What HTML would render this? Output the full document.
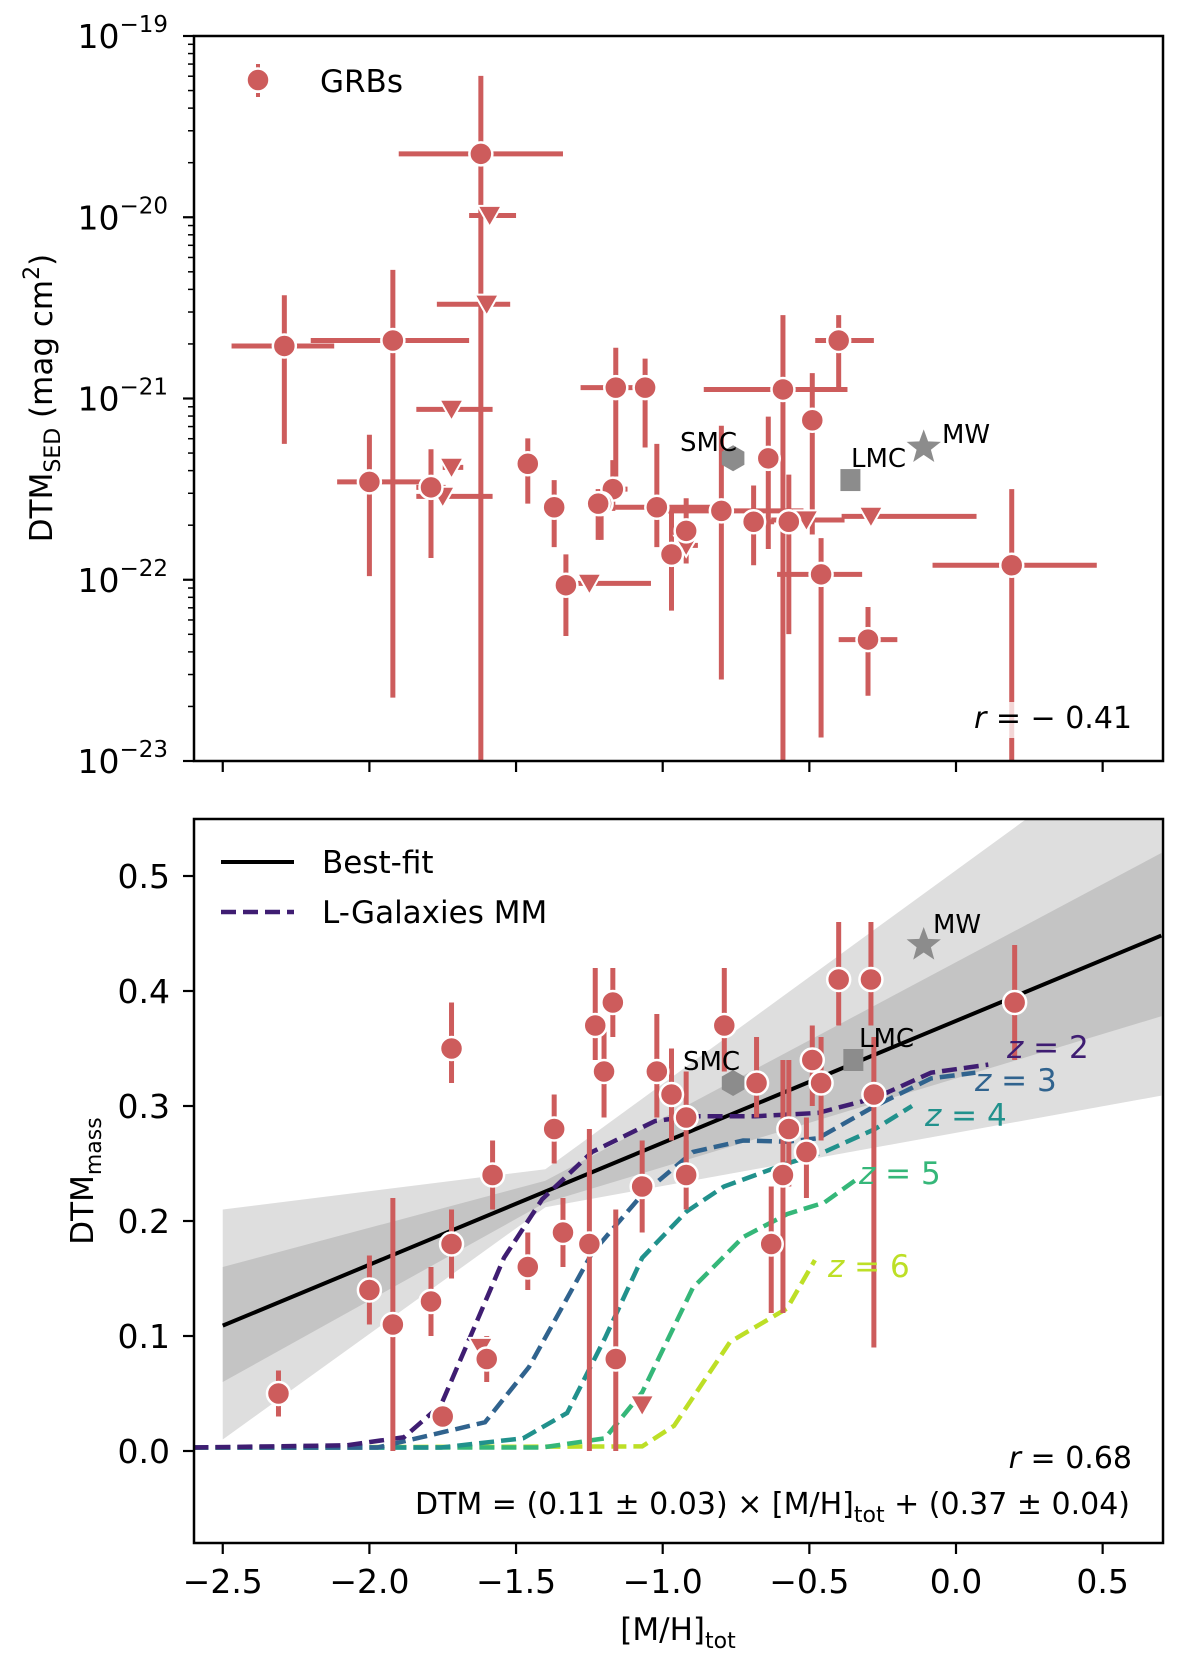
<!DOCTYPE html>
<html><head><meta charset="utf-8">
<style>
html,body{margin:0;padding:0;background:#fff;}
svg{display:block;font-family:"DejaVu Sans","Liberation Sans",sans-serif;}
</style></head>
<body>
<svg id="chart" width="1200" height="1656" viewBox="0 0 1200 1656" xmlns="http://www.w3.org/2000/svg">
<defs>
<clipPath id="clipTop"><rect x="194" y="36" width="969" height="725"/></clipPath>
<clipPath id="clipBot"><rect x="194" y="819" width="969" height="724"/></clipPath>
</defs>
<g id="gTop"></g>
<g id="gBot"></g>
</svg>
<script>
// ---------- data: top panel (x, log10 DTM_SED, x-lo, x-hi, logy-hi, logy-lo) ----------
const topCircX   = [-2.29,-1.92,-1.62,-2.00,-1.79,-1.46,-1.37,-1.33,-1.16,-1.06,-1.17,-1.21,-1.22,-1.02,-0.97,-0.92,-0.80,-0.69,-0.64,-0.59,-0.57,-0.49,-0.40,-0.46,-0.30,0.19];
const topCircY   = [-20.71,-20.68,-19.65,-21.46,-21.49,-21.36,-21.60,-22.03,-20.94,-20.94,-21.50,-21.58,-21.58,-21.60,-21.86,-21.73,-21.62,-21.68,-21.33,-20.95,-21.68,-21.12,-20.68,-21.97,-22.33,-21.92];
const topCircXlo = [-2.47,-2.20,-1.90,-2.11,-1.84,-1.50,-1.41,-1.36,-1.28,-1.10,-1.21,-1.25,-1.26,-1.24,-1.00,-0.95,-1.00,-0.72,-0.68,-0.86,-0.60,-0.53,-0.48,-0.61,-0.40,-0.08];
const topCircXhi = [-2.12,-1.66,-1.34,-1.78,-1.74,-1.42,-1.33,-1.30,-1.10,-1.02,-1.12,-1.17,-1.18,-0.78,-0.94,-0.89,-0.52,-0.62,-0.60,-0.37,-0.50,-0.45,-0.28,-0.32,-0.20,0.48];
const topCircYhi = [-20.43,-20.29,-19.22,-21.20,-21.28,-21.22,-21.45,-21.86,-20.72,-20.78,-21.34,-21.50,-21.50,-21.25,-21.60,-21.55,-21.15,-21.48,-21.10,-20.54,-21.42,-20.86,-20.54,-21.77,-22.15,-21.50];
const topCircYlo = [-21.25,-22.65,-23.5,-21.98,-21.88,-21.58,-21.82,-22.31,-21.43,-21.27,-21.62,-21.78,-21.78,-21.82,-22.17,-21.91,-22.55,-21.92,-21.83,-23.5,-22.30,-21.75,-20.95,-22.87,-22.64,-23.5];
const topTriX    = [-1.59,-1.60,-1.72,-1.72,-1.75,-1.25,-0.92,-0.51,-0.29];
const topTriY    = [-19.99,-20.48,-21.06,-21.38,-21.54,-22.02,-21.81,-21.67,-21.65];
const topTriXlo  = [-1.66,-1.77,-1.84,-1.75,-1.84,-1.33,-0.96,-0.63,-0.39];
const topTriXhi  = [-1.50,-1.52,-1.58,-1.68,-1.58,-1.04,-0.88,-0.38,0.07];
const topRefX    = [-0.76,-0.36,-0.11];
const topRefY    = [-21.33,-21.45,-21.27];
// ---------- data: bottom panel ----------
const botCircX   = [-2.31,-2.00,-1.92,-1.79,-1.75,-1.72,-1.72,-1.60,-1.58,-1.37,-1.46,-1.34,-1.25,-1.23,-1.20,-1.17,-1.16,-1.07,-1.02,-0.97,-0.92,-0.92,-0.79,-0.68,-0.63,-0.59,-0.57,-0.51,-0.49,-0.46,-0.40,-0.29,-0.28,0.20];
const botCircY   = [0.05,0.14,0.11,0.13,0.03,0.35,0.18,0.08,0.24,0.28,0.16,0.19,0.18,0.37,0.33,0.39,0.08,0.23,0.33,0.31,0.29,0.24,0.37,0.32,0.18,0.24,0.28,0.26,0.34,0.32,0.41,0.41,0.31,0.39];
const botCircYlo = [0.03,0.11,0.00,0.10,0.03,0.32,0.15,0.06,0.21,0.25,0.14,0.16,0.00,0.34,0.29,0.36,0.00,0.19,0.29,0.27,0.25,0.21,0.33,0.29,0.12,0.12,0.23,0.22,0.30,0.27,0.37,0.37,0.09,0.34];
const botCircYhi = [0.07,0.17,0.22,0.16,0.03,0.39,0.21,0.10,0.27,0.31,0.19,0.22,0.28,0.42,0.37,0.42,0.21,0.27,0.38,0.35,0.33,0.27,0.42,0.36,0.23,0.34,0.34,0.29,0.37,0.36,0.46,0.46,0.36,0.44];
const botTriX    = [-1.62,-1.07];
const botTriY    = [0.09,0.04];
const botRefX    = [-0.76,-0.35,-0.11];
const botRefY    = [0.32,0.34,0.44];
const refNames   = ["SMC","LMC","MW"];
// best fit
const fitSlope = 0.106, fitIntercept = 0.374;
const fitRange = [-2.5, 0.7];
const bandX       = [-2.5,-1.4,0.7];
const band1Lo     = [0.06,0.216,0.378];
const band1Hi     = [0.16,0.235,0.52];
const band2Lo     = [0.01,0.212,0.309];
const band2Hi     = [0.21,0.245,0.635];
// L-Galaxies model curves
const z2X = [-2.6,-2.076,-1.882,-1.756,-1.670,-1.541,-1.411,-1.241,-1.026,-0.897,-0.685,-0.470,-0.276,-0.085,0.110];
const z2Y = [0.003,0.005,0.012,0.04,0.091,0.168,0.219,0.26,0.287,0.291,0.291,0.294,0.307,0.329,0.336];
const z3X = [-2.6,-1.972,-1.606,-1.456,-1.241,-1.070,-0.897,-0.726,-0.576,-0.470,-0.276,-0.085,0.066];
const z3Y = [0.003,0.003,0.025,0.073,0.172,0.223,0.26,0.27,0.269,0.272,0.30,0.324,0.329];
const z4X = [-2.6,-1.756,-1.476,-1.326,-1.197,-1.070,-0.920,-0.791,-0.576,-0.449,-0.276,-0.150];
const z4Y = [0.003,0.003,0.011,0.033,0.098,0.168,0.208,0.23,0.25,0.26,0.28,0.30];
const z5X = [-2.6,-1.411,-1.197,-1.070,-0.897,-0.726,-0.576,-0.449,-0.34];
const z5Y = [0.003,0.003,0.011,0.051,0.142,0.186,0.206,0.216,0.236];
const z6X = [-2.6,-1.070,-0.961,-0.77,-0.576,-0.481];
const z6Y = [0.003,0.004,0.022,0.095,0.124,0.166];
const xTicks = [-2.5,-2.0,-1.5,-1.0,-0.5,0.0,0.5];
const xTickLabels = ["\u22122.5","\u22122.0","\u22121.5","\u22121.0","\u22120.5","0.0","0.5"];
const topTicks = [-19,-20,-21,-22,-23];
const topTickExp = ["\u221219","\u221220","\u221221","\u221222","\u221223"];
const botTicks = [0.0,0.1,0.2,0.3,0.4,0.5];
const botTickLabels = ["0.0","0.1","0.2","0.3","0.4","0.5"];

// ---------- axes ----------
const L = 194, R = 1163;
const TT = 36, TB = 761, BT = 819, BB = 1543;
const X  = v => 956 + 293.3*v;
const YT = lg => 36 + (-19 - lg)*181.25;
const YB = v => 1451 - 1150*v;
const NS = "http://www.w3.org/2000/svg";
const RED = "#cd5c5c", GREY = "#8c8c8c";
function mk(tag, attrs, parent){
  const e = document.createElementNS(NS, tag);
  for (const k in attrs) e.setAttribute(k, attrs[k]);
  parent.appendChild(e);
  return e;
}
const gTop = document.getElementById('gTop');
const gBot = document.getElementById('gBot');

function circle(g,x,y){ return mk('circle',{cx:x,cy:y,r:11.5,fill:RED,stroke:'#fff','stroke-width':2.5},g); }
function tri(g,x,y){ const s=12; return mk('polygon',{points:`${x-s},${y-s*0.8} ${x+s},${y-s*0.8} ${x},${y+s*0.95}`,fill:RED,stroke:'#fff','stroke-width':2},g); }
function line(g,x1,y1,x2,y2,st){ return mk('line',Object.assign({x1:x1,y1:y1,x2:x2,y2:y2},st),g); }
function refMarker(g,i,x,y){
  let e;
  if(i===0){ let p=[];for(let k=0;k<6;k++){const a=Math.PI/6+k*Math.PI/3;p.push((x+13*Math.cos(a)).toFixed(1)+','+(y+13*Math.sin(a)).toFixed(1));}
    e=mk('polygon',{points:p.join(' '),fill:GREY},g);}
  else if(i===1){ e=mk('rect',{x:x-10,y:y-11,width:20,height:22,fill:GREY},g);}
  else { let p=[];for(let k=0;k<10;k++){const a=-Math.PI/2+k*Math.PI/5;const r=k%2?7.5:18;p.push((x+r*Math.cos(a)).toFixed(1)+','+(y+r*Math.sin(a)).toFixed(1));}
    e=mk('polygon',{points:p.join(' '),fill:GREY},g);}
  return e;
}
function txt(g,x,y,s,attrs){ const t=mk('text',Object.assign({x:x,y:y,'font-size':31,fill:'#000'},attrs||{}),g); t.textContent=s; return t; }

// ===== TOP PANEL =====
const topData = mk('g',{'clip-path':'url(#clipTop)'},gTop);
const eStyle = {stroke:RED,'stroke-width':5};
for(let i=0;i<topTriX.length;i++){
  const x=X(topTriX[i]), y=YT(topTriY[i]);
  const b=line(topData,X(topTriXlo[i]),y,X(topTriXhi[i]),y,eStyle);
  
  
}
for(let i=0;i<topCircX.length;i++){
  const x=X(topCircX[i]), y=YT(topCircY[i]);
  const a=line(topData,X(topCircXlo[i]),y,X(topCircXhi[i]),y,eStyle);
  
  
  const b=line(topData,x,YT(topCircYhi[i]),x,YT(topCircYlo[i]),eStyle);
  
  
}
for(let i=0;i<topTriX.length;i++){
  const t=tri(topData,X(topTriX[i]),YT(topTriY[i]));
  
  
}
for(let i=0;i<topCircX.length;i++){
  const c=circle(topData,X(topCircX[i]),YT(topCircY[i]));
  
  
}
for(let i=0;i<3;i++){
  const m=refMarker(topData,i,X(topRefX[i]),YT(topRefY[i]));
  
  
}
[[680,451],[851,467],[942,443]].forEach((p,i)=>{const t=txt(gTop,p[0],p[1],refNames[i],{'font-size':26});
  
  });
// r label
const rbg=mk('rect',{x:980,y:702,width:150,height:36,fill:'#fff','fill-opacity':0.75},gTop);


const rt=txt(gTop,1132,728,'',{'text-anchor':'end','font-size':30});
rt.innerHTML='<tspan font-style="italic">r</tspan> = \u2212 0.41';


// legend
const lg1=mk('g',{},gTop);


line(lg1,258,64,258,97,{stroke:RED,'stroke-width':4,'stroke-dasharray':'4,25'});
circle(lg1,258,80);
txt(lg1,320,92,'GRBs');
// frame & ticks
mk('rect',{x:L,y:TT,width:R-L,height:TB-TT,fill:'none',stroke:'#000','stroke-width':2.5},gTop);
for(let i=0;i<topTicks.length;i++){
  const y=YT(topTicks[i]);
  const tk=line(gTop,L-11,y,L,y,{stroke:'#000','stroke-width':2.2});
  
  
  const t=txt(gTop,168,y+12,'',{'text-anchor':'end','font-size':33});
  t.innerHTML='10<tspan dy="-16" font-size="23">'+topTickExp[i]+'</tspan>';
  
  
  if(i<topTicks.length-1){
    for(let k=2;k<=9;k++){
      const yy=YT(topTicks[i+1]+Math.log10(k));
      line(gTop,L-6,yy,L,yy,{stroke:'#000','stroke-width':1.5});
    }
  }
}
for(let i=0;i<xTicks.length;i++){
  const x=X(xTicks[i]);
  const tk=line(gTop,x,TB,x,TB+11,{stroke:'#000','stroke-width':2.2});
  
  
}
const ylT=mk('text',{x:0,y:0,'font-size':31,'text-anchor':'middle',transform:'translate(52,398) rotate(-90)'},gTop);
ylT.innerHTML='DTM<tspan dy="8" font-size="22">SED</tspan><tspan dy="-8"> (mag cm</tspan><tspan dy="-13" font-size="22">2</tspan><tspan dy="13">)</tspan>';



// ===== BOTTOM PANEL =====
const bd = mk('g',{'clip-path':'url(#clipBot)'},gBot);
function bandPath(lo,hi){
  let d='';
  for(let i=0;i<bandX.length;i++) d+=(i?'L':'M')+X(bandX[i])+','+YB(hi[i]);
  for(let i=bandX.length-1;i>=0;i--) d+='L'+X(bandX[i])+','+YB(lo[i]);
  return d+'Z';
}
const b2=mk('path',{d:bandPath(band2Lo,band2Hi),fill:'#dedede'},bd);


const b1=mk('path',{d:bandPath(band1Lo,band1Hi),fill:'#c4c4c4'},bd);


const fl=line(bd,X(fitRange[0]),YB(fitSlope*fitRange[0]+fitIntercept),X(fitRange[1]),YB(fitSlope*fitRange[1]+fitIntercept),{stroke:'#000','stroke-width':4});


const models=[[z2X,z2Y,'#3f1d72','z-2'],[z3X,z3Y,'#30638e','z-3'],[z4X,z4Y,'#21918c','z-4'],[z5X,z5Y,'#35b779','z-5'],[z6X,z6Y,'#bddf26','z-6']];
for(let m=models.length-1;m>=0;m--){
  const xs=models[m][0], ys=models[m][1];
  let pts=xs.map((v,i)=>X(v).toFixed(1)+','+YB(ys[i]).toFixed(1)).join(' ');
  const p=mk('polyline',{points:pts,fill:'none',stroke:models[m][2],'stroke-width':4.5,'stroke-dasharray':'15,7'},bd);
  
  
}
for(let i=0;i<botCircX.length;i++){
  const x=X(botCircX[i]);
  if(botCircYhi[i]>botCircYlo[i]){
    const e=line(bd,x,YB(botCircYhi[i]),x,YB(botCircYlo[i]),eStyle);
    
    
  }
}
for(let i=0;i<botTriX.length;i++){
  const t=tri(bd,X(botTriX[i]),YB(botTriY[i]));
  
  
}
for(let i=0;i<botCircX.length;i++){
  const c=circle(bd,X(botCircX[i]),YB(botCircY[i]));
  
  
}
for(let i=0;i<3;i++){
  const m=refMarker(bd,i,X(botRefX[i]),YB(botRefY[i]));
  
  
}
[[683,1070],[859,1047],[933,933]].forEach((p,i)=>{const t=txt(gBot,p[0],p[1],refNames[i],{'font-size':26});
  
  });
const zl=[[1007,1058,'2'],[975,1091,'3'],[925,1126,'4'],[859,1184,'5'],[828,1277,'6']];
zl.forEach((p,i)=>{const t=txt(gBot,p[0],p[1],'',{fill:models[i][2],'font-size':31});
  t.innerHTML='<tspan font-style="italic">z</tspan> = '+p[2];
  
  });
// legend
const lb1=mk('g',{},gBot);


line(lb1,221,862,294,862,{stroke:'#000','stroke-width':4});
txt(lb1,322,873,'Best-fit');
const lb2=mk('g',{},gBot);


line(lb2,221,912,294,912,{stroke:'#3f1d72','stroke-width':4.5,'stroke-dasharray':'15,7'});
txt(lb2,322,923,'L-Galaxies MM');
const r2=txt(gBot,1132,1468,'',{'text-anchor':'end','font-size':30});
r2.innerHTML='<tspan font-style="italic">r</tspan> = 0.68';


const eq=txt(gBot,1130,1514,'',{'text-anchor':'end','font-size':30});
eq.innerHTML='DTM  = (0.11 \u00b1 0.03) \u00d7 [M/H]<tspan dy="8" font-size="22">tot</tspan><tspan dy="-8"> + (0.37 \u00b1 0.04)</tspan>';


mk('rect',{x:L,y:BT,width:R-L,height:BB-BT,fill:'none',stroke:'#000','stroke-width':2.5},gBot);
for(let i=0;i<botTicks.length;i++){
  const y=YB(botTicks[i]);
  const tk=line(gBot,L-11,y,L,y,{stroke:'#000','stroke-width':2.2});
  
  
  const t=txt(gBot,170,y+12,botTickLabels[i],{'text-anchor':'end','font-size':33});
  
  
}
for(let i=0;i<xTicks.length;i++){
  const x=X(xTicks[i]);
  const tk=line(gBot,x,BB,x,BB+11,{stroke:'#000','stroke-width':2.2});
  
  
  const t=txt(gBot,x,BB+50,xTickLabels[i],{'text-anchor':'middle','font-size':33});
  
  
}
const ylB=mk('text',{x:0,y:0,'font-size':31,'text-anchor':'middle',transform:'translate(93,1181) rotate(-90)'},gBot);
ylB.innerHTML='DTM<tspan dy="8" font-size="22">mass</tspan>';


const xl=txt(gBot,678,1640,'',{'text-anchor':'middle','font-size':31});
xl.innerHTML='[M/H]<tspan dy="8" font-size="22">tot</tspan>';


</script>
</body></html>
